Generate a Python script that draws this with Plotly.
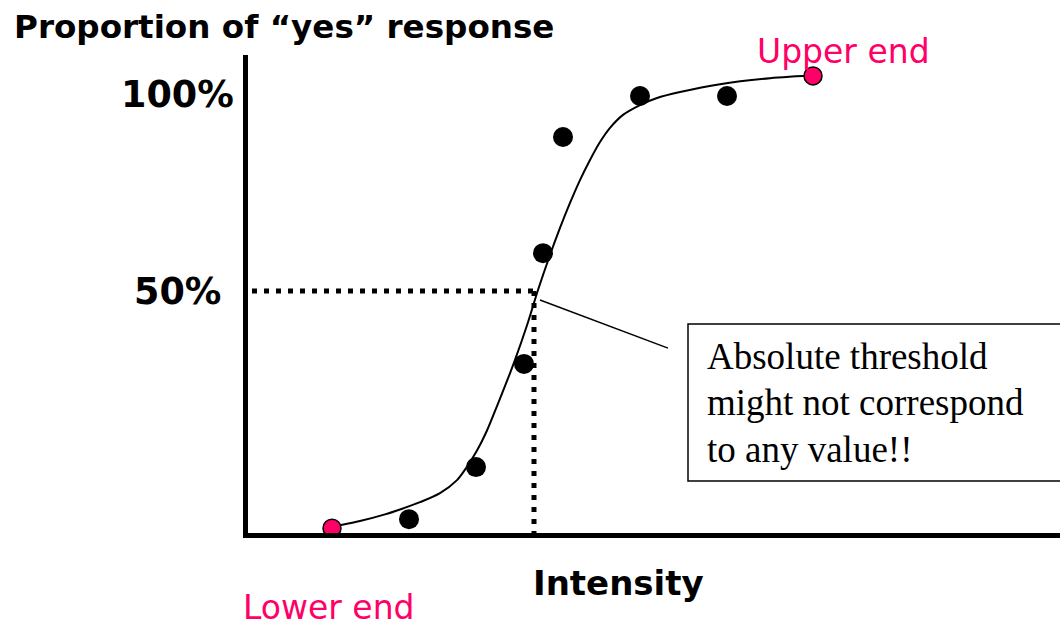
import plotly.graph_objects as go

# ---- data (intensity in arbitrary units, proportion in %) ----
obs_intensity = [16.4, 23.1, 27.9, 29.8, 31.8, 39.5, 48.2]
obs_proportion = [-7.9, 5.3, 31.5, 59.6, 89.1, 99.5, 99.5]

end_intensity = [8.7, 56.8]
end_proportion = [-10.2, 104.6]

curve_intensity = [8.0, 11.5, 14.0, 15.5, 17.5, 19.5, 21.2, 22.2, 23.2, 24.2, 25.2,
                   26.3, 27.0, 28.2, 29.3, 30.5, 31.5, 32.5, 33.5, 34.5, 35.5, 36.5,
                   37.8, 39.5, 41.2, 43.5, 47.5, 52.5, 57.5]
curve_proportion = [-10.15, -8.38, -6.70, -5.45, -3.6, -1.3, 2.0, 5.4, 9.5, 14.6,
                    20.8, 27.8, 32.5, 41.3, 50.25, 59.14, 66.0, 72.35, 78.15, 83.25,
                    87.8, 91.4, 94.7, 97.2, 99.0, 100.5, 102.5, 104.0, 104.8]

threshold_intensity = 28.9
threshold_proportion = 50
tick_values = [100, 50]
tick_labels = ["100%", "50%"]
box_lines = ["Absolute threshold", "might not correspond", "to any value!!"]

X_RANGE = [0.3, 81.5]
Y_RANGE = [-11.42, 109.9]

# plot area in pixels
L, T, R, B = 248, 55, 1060, 533
W, H = 1060, 629


def px_x(px):
    return (px - L) / (R - L)


def px_y(py):
    return (B - py) / (B - T)


PINK = "#FF0066"
BOLD = "DejaVu Sans"

fig = go.Figure()

# dotted guide lines at the threshold
fig.add_trace(go.Scatter(
    x=[0.7, threshold_intensity], y=[threshold_proportion, threshold_proportion],
    mode="lines", line=dict(color="black", width=5, dash="5px,7px"),
    hoverinfo="skip", showlegend=False))
fig.add_trace(go.Scatter(
    x=[threshold_intensity, threshold_intensity], y=[threshold_proportion, Y_RANGE[0]],
    mode="lines", line=dict(color="black", width=5, dash="5px,7px"),
    hoverinfo="skip", showlegend=False))

# fitted psychometric curve
fig.add_trace(go.Scatter(
    x=curve_intensity, y=curve_proportion, mode="lines",
    line=dict(color="black", width=2, shape="spline", smoothing=0.8),
    hoverinfo="skip", showlegend=False))

# observed points
fig.add_trace(go.Scatter(
    x=obs_intensity, y=obs_proportion, mode="markers",
    marker=dict(color="black", size=20, line=dict(width=0)),
    showlegend=False, cliponaxis=False))

# end points
fig.add_trace(go.Scatter(
    x=end_intensity, y=end_proportion, mode="markers",
    marker=dict(color=PINK, size=18, line=dict(color="black", width=1.5)),
    showlegend=False, cliponaxis=False))

# call-out box and pointer
fig.add_shape(type="rect", xref="x", yref="y", x0=44.3, x1=95, y0=1.78, y1=41.6,
              line=dict(color="black", width=1.5), fillcolor="rgba(0,0,0,0)")
fig.add_shape(type="line", xref="x", yref="y", x0=29.5, y0=47.7, x1=42.3, y1=35.5,
              line=dict(color="black", width=1.5))

annotations = [
    dict(text="<b>Proportion of “yes” response</b>", x=px_x(284), y=px_y(27),
         xanchor="center", yanchor="middle", font=dict(family=BOLD, size=32.6, color="black")),
    dict(text="<b>Intensity</b>", x=px_x(618), y=px_y(583),
         xanchor="center", yanchor="middle", font=dict(family=BOLD, size=34, color="black")),
    dict(text="Lower end", x=px_x(241), y=px_y(607), xanchor="left", yanchor="middle",
         font=dict(family="DejaVu Sans", size=33, color=PINK)),
    dict(text="Upper end", x=px_x(755), y=px_y(51), xanchor="left", yanchor="middle",
         font=dict(family="DejaVu Sans", size=33, color=PINK)),
]
for i, line in enumerate(box_lines):
    annotations.append(dict(
        text=line, x=px_x(705), y=px_y(356 + 46.5 * i), xanchor="left", yanchor="middle",
        align="left", font=dict(family="Liberation Serif", size=37, color="black")))
for v, lab in zip(tick_values, tick_labels):
    annotations.append(dict(
        text=f"<b>{lab}</b>", x=px_x(177), xref="paper", y=v, yref="y",
        xanchor="center", yanchor="middle",
        font=dict(family=BOLD, size=36.5, color="black")))

for a in annotations:
    a.setdefault("xref", "paper")
    a.setdefault("yref", "paper")
    a["showarrow"] = False

fig.update_layout(
    width=W, height=H,
    margin=dict(l=L, r=W - R, t=T, b=H - B, pad=0),
    paper_bgcolor="white", plot_bgcolor="white",
    annotations=annotations,
    xaxis=dict(range=X_RANGE, showline=True, linecolor="black", linewidth=5,
               showgrid=False, zeroline=False, showticklabels=False, ticks=""),
    yaxis=dict(range=Y_RANGE, showline=True, linecolor="black", linewidth=5,
               showgrid=False, zeroline=False, showticklabels=False, ticks=""),
    showlegend=False,
)

fig.write_html("out.html", config={"displayModeBar": False},
               post_script="document.body.style.margin='0';document.body.style.padding='0';")
